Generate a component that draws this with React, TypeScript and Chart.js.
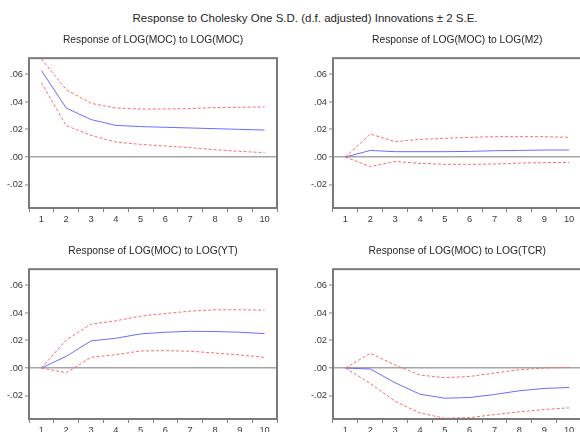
import React, { useEffect, useRef } from "react";
import { Chart, registerables } from "chart.js";

Chart.register(...registerables);

// ---------- data ----------
const steps = ["1", "2", "3", "4", "5", "6", "7", "8", "9", "10"];
const yTicks = [-0.02, 0, 0.02, 0.04, 0.06];
const yMin = -0.037;
const yMax = 0.0718;

const mainTitle = "Response to Cholesky One S.D. (d.f. adjusted) Innovations ± 2 S.E.";

const mocTitle = "Response of LOG(MOC) to LOG(MOC)";
const mocResp = [0.0628, 0.0356, 0.0272, 0.023, 0.0221, 0.0216, 0.0211, 0.0206, 0.0201, 0.0196];
const mocUpper = [0.0713, 0.049, 0.039, 0.0356, 0.0349, 0.0349, 0.0352, 0.0359, 0.0361, 0.0364];
const mocLower = [0.054, 0.0228, 0.0158, 0.0109, 0.0092, 0.008, 0.0068, 0.0053, 0.0041, 0.0032];

const m2Title = "Response of LOG(MOC) to LOG(M2)";
const m2Resp = [0, 0.0048, 0.0039, 0.0039, 0.0039, 0.0041, 0.0046, 0.0048, 0.0051, 0.0051];
const m2Upper = [0, 0.0167, 0.0112, 0.0128, 0.0136, 0.0143, 0.0148, 0.0148, 0.0148, 0.0143];
const m2Lower = [0, -0.007, -0.0032, -0.0046, -0.0053, -0.0053, -0.0051, -0.0044, -0.0041, -0.0039];

const ytTitle = "Response of LOG(MOC) to LOG(YT)";
const ytResp = [0, 0.0085, 0.0197, 0.0216, 0.0248, 0.026, 0.0267, 0.0265, 0.026, 0.025];
const ytUpper = [0, 0.0204, 0.0318, 0.0343, 0.0377, 0.0396, 0.0413, 0.0423, 0.0423, 0.042];
const ytLower = [0, -0.0034, 0.0078, 0.0097, 0.0124, 0.0126, 0.0122, 0.0109, 0.0095, 0.0078];

const tcrTitle = "Response of LOG(MOC) to LOG(TCR)";
const tcrResp = [0, -0.0007, -0.0107, -0.019, -0.0219, -0.0214, -0.0192, -0.0165, -0.0148, -0.0141];
const tcrUpper = [0, 0.0107, 0.0022, -0.0051, -0.007, -0.0061, -0.0036, -0.0012, 0.0, 0.0005];
const tcrLower = [0, -0.0112, -0.0241, -0.0326, -0.0365, -0.036, -0.0338, -0.0318, -0.0301, -0.0289];

// ---------- styling ----------
const FONT = "'Liberation Sans', Arial, Helvetica, sans-serif";
const BLUE = "#6c6cff";
const RED = "#ff6b6b";
const FRAME = "#7a7a7a";

const fmt = (v: number) => {
  if (Math.abs(v) < 1e-9) return ".00";
  const s = Math.abs(v).toFixed(2).replace(/^0/, "");
  return v < 0 ? "-" + s : s;
};

const framePlugin = {
  id: "frame",
  afterDatasetsDraw(chart: any) {
    const { ctx, chartArea } = chart;
    ctx.save();
    ctx.strokeStyle = FRAME;
    ctx.lineWidth = 2;
    ctx.strokeRect(chartArea.left, chartArea.top, chartArea.right - chartArea.left, chartArea.bottom - chartArea.top);
    ctx.restore();
  },
};

type PanelProps = {
  title: string;
  resp: number[];
  upper: number[];
  lower: number[];
  left: number;
  top: number;
  width: number;
  yAxisWidth: number;
  padRight: number;
};

const PANEL_H = 204;

function Panel({ title, resp, upper, lower, left, top, width, yAxisWidth, padRight }: PanelProps) {
  const ref = useRef<HTMLCanvasElement | null>(null);
  useEffect(() => {
    if (!ref.current) return;
    const chart = new Chart(ref.current, {
      type: "line",
      data: {
        labels: steps,
        datasets: [
          { data: upper, borderColor: RED, borderWidth: 1, borderDash: [3, 2], pointRadius: 0, tension: 0, fill: false },
          { data: lower, borderColor: RED, borderWidth: 1, borderDash: [3, 2], pointRadius: 0, tension: 0, fill: false },
          { data: resp, borderColor: BLUE, borderWidth: 1, pointRadius: 0, tension: 0, fill: false },
        ],
      },
      options: {
        animation: false,
        responsive: false,
        devicePixelRatio: 1,
        layout: { padding: { left: 0, right: padRight, top: 0, bottom: 0 } },
        plugins: {
          legend: { display: false },
          tooltip: { enabled: false },
          title: {
            display: true,
            text: title,
            fullSize: false,
            color: "#262626",
            font: { family: FONT, size: 10.3, weight: "normal" },
            padding: { top: 6.4, bottom: 11.4 },
          },
        },
        scales: {
          x: {
            type: "category",
            offset: true,
            grid: {
              offset: true,
              drawOnChartArea: false,
              drawTicks: true,
              tickLength: 4,
              tickColor: "#808080",
              tickWidth: 1,
            },
            border: { display: false },
            ticks: {
              color: "#3a3a3a",
              font: { family: FONT, size: 9.3 },
              padding: 2,
              maxRotation: 0,
              autoSkip: false,
            },
            afterFit: (s: any) => {
              s.height = 24;
            },
          },
          y: {
            type: "linear",
            min: yMin,
            max: yMax,
            afterBuildTicks: (s: any) => {
              s.ticks = yTicks.map((v) => ({ value: v }));
            },
            grid: {
              drawOnChartArea: true,
              drawTicks: true,
              tickLength: 4,
              color: (c: any) => (c.tick && Math.abs(c.tick.value) < 1e-9 ? "#a6a6a6" : "rgba(0,0,0,0)"),
              lineWidth: (c: any) => (c.tick && Math.abs(c.tick.value) < 1e-9 ? 1.6 : 0),
              tickColor: "#808080",
              tickWidth: 1,
            },
            border: { display: false },
            ticks: {
              color: "#3a3a3a",
              font: { family: FONT, size: 9.3 },
              padding: 2,
              callback: (v: any) => fmt(Number(v)),
            },
            afterFit: (s: any) => {
              s.width = yAxisWidth;
            },
          },
        },
      },
      plugins: [framePlugin],
    } as any);
    return () => chart.destroy();
  }, [title, resp, upper, lower, yAxisWidth, padRight]);

  return (
    <canvas
      ref={ref}
      width={width}
      height={PANEL_H}
      style={{ position: "absolute", left, top, width, height: PANEL_H }}
    />
  );
}

export default function App() {
  return (
    <div
      style={{
        position: "fixed",
        left: 0,
        top: 0,
        width: 580,
        height: 432,
        overflow: "hidden",
        background: "#ffffff",
      }}
    >
      <div
        style={{
          position: "absolute",
          left: 0,
          top: 10,
          width: 610,
          textAlign: "center",
          fontFamily: FONT,
          fontSize: 11.5,
          lineHeight: "16px",
          color: "#262626",
          whiteSpace: "nowrap",
        }}
      >
        {mainTitle}
      </div>
      <Panel title={mocTitle} resp={mocResp} upper={mocUpper} lower={mocLower} left={0} top={28} width={290} yAxisWidth={29} padRight={13} />
      <Panel title={m2Title} resp={m2Resp} upper={m2Upper} lower={m2Lower} left={290} top={28} width={300} yAxisWidth={43} padRight={8.5} />
      <Panel title={ytTitle} resp={ytResp} upper={ytUpper} lower={ytLower} left={0} top={239} width={290} yAxisWidth={29} padRight={13} />
      <Panel title={tcrTitle} resp={tcrResp} upper={tcrUpper} lower={tcrLower} left={290} top={239} width={300} yAxisWidth={43} padRight={8.5} />
    </div>
  );
}
